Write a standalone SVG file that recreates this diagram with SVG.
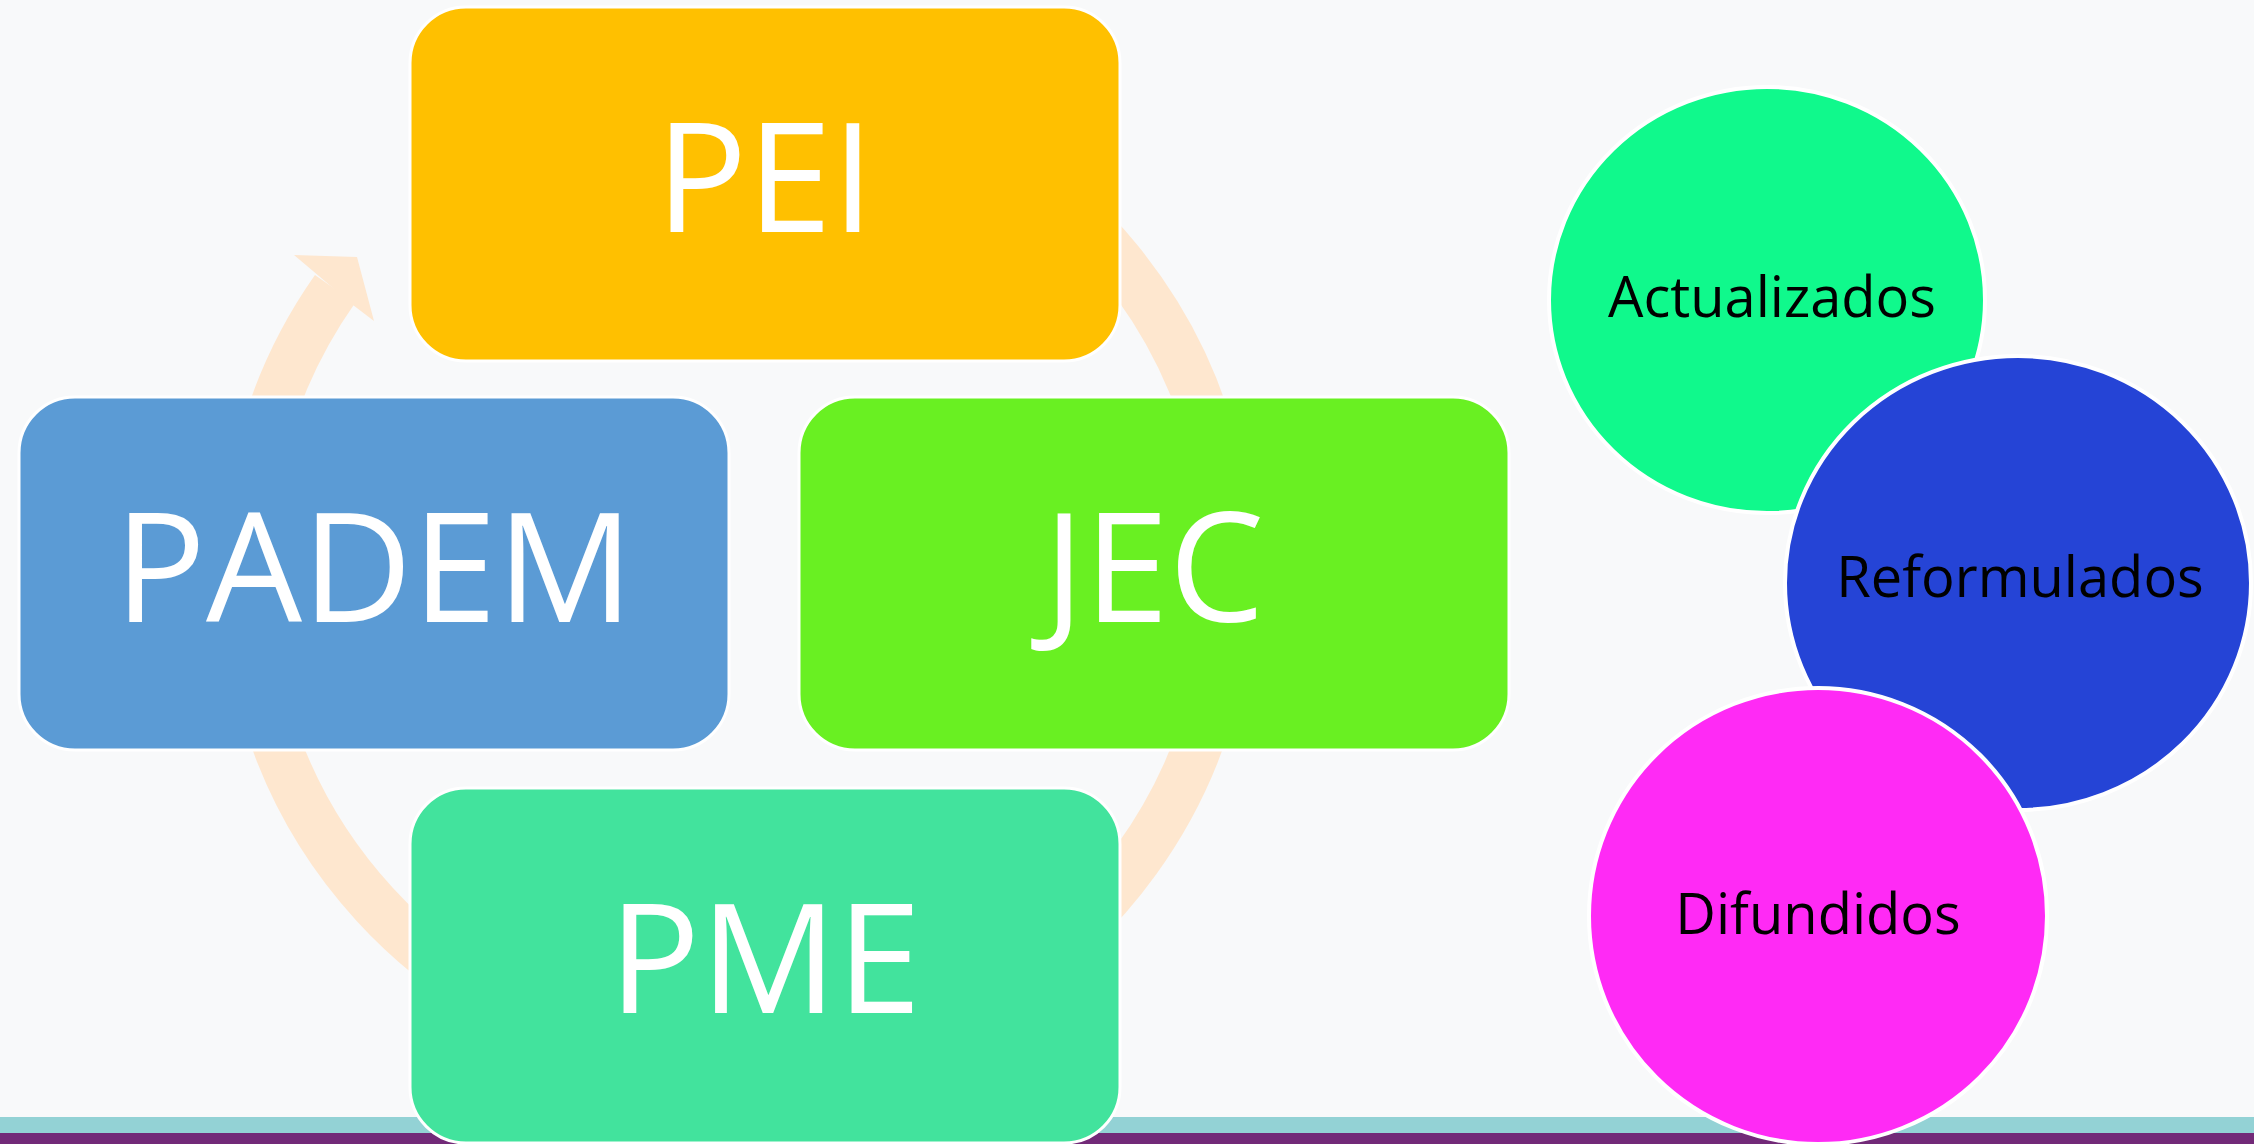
<svg xmlns="http://www.w3.org/2000/svg" width="2254" height="1144" viewBox="0 0 2254 1144">
<style>
.box{stroke:#ffffff;stroke-width:3}
.btxt{font-family:"Open Sans","Noto Sans",sans-serif;font-size:152px;fill:#ffffff;text-anchor:middle}
.circ{stroke:#ffffff;stroke-width:4}
.ctxt{font-family:"Open Sans","Noto Sans",sans-serif;font-size:56px;fill:#000000;text-anchor:middle}
</style>
<rect x="0" y="0" width="2254" height="1144" fill="#f8f9fa"/>
<rect x="0" y="1117" width="2254" height="16" fill="#93d2d5"/>
<rect x="0" y="1133" width="2254" height="11" fill="#722a78"/>
<g id="connectors">
<path d="M 737 80 A 492 492 0 1 1 335 289" fill="none" stroke="#fee7cf" stroke-width="49"/>
<polygon points="313,271 294,255 357,257 374,321 353,305" fill="#fee7cf"/>
</g>
<g id="node-pei">
<rect class="box" x="410" y="7" width="710" height="354" rx="56" fill="#ffc000"/>
<text class="btxt" x="765" y="232">PEI</text>
</g>
<g id="node-padem">
<rect class="box" x="19" y="397" width="710" height="353" rx="56" fill="#5b9bd5"/>
<text class="btxt" x="374" y="622">PADEM</text>
</g>
<g id="node-jec">
<rect class="box" x="799" y="397" width="710" height="353" rx="56" fill="#69f022"/>
<text class="btxt" x="1154" y="622">JEC</text>
</g>
<g id="node-pme">
<rect class="box" x="410" y="788" width="710" height="355" rx="56" fill="#42e39d"/>
<text class="btxt" x="765" y="1013">PME</text>
</g>
<g id="node-actualizados">
<ellipse class="circ" cx="1767" cy="300" rx="218" ry="213" fill="#10f98c"/>
<text class="ctxt" x="1772" y="317">Actualizados</text>
</g>
<g id="node-reformulados">
<ellipse class="circ" cx="2018" cy="583" rx="233" ry="227" fill="#2544d6"/>
<text class="ctxt" x="2020" y="597">Reformulados</text>
</g>
<g id="node-difundidos">
<ellipse class="circ" cx="1818" cy="916" rx="229" ry="228" fill="#ff2af5"/>
<text class="ctxt" x="1818" y="934">Difundidos</text>
</g>
</svg>
